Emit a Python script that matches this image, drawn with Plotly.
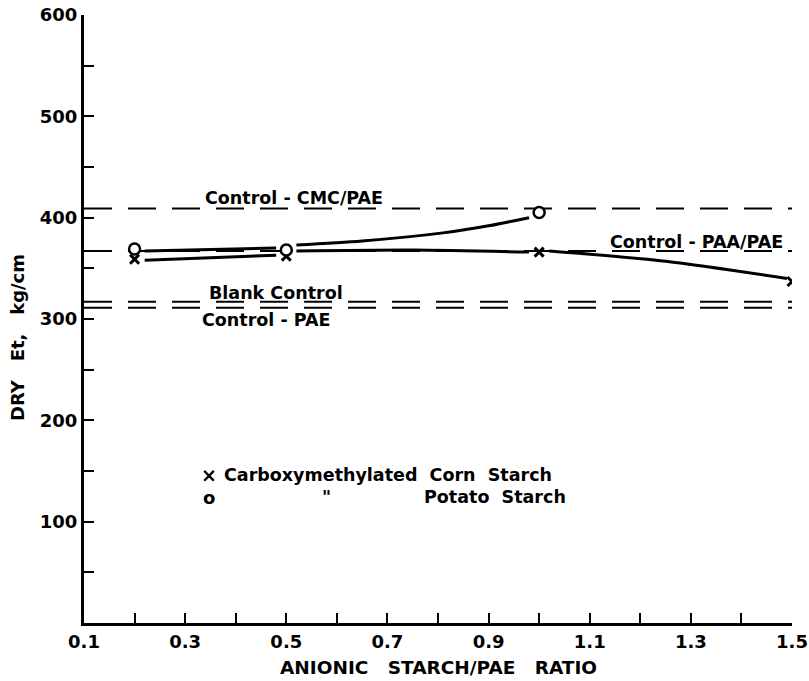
import plotly.graph_objects as go

# Dry tensile strength vs. anionic starch / PAE ratio (measured points)
ratio_corn = [0.2, 0.5, 1.0, 1.5]
dry_et_corn = [359, 362, 366, 337]

ratio_potato = [0.2, 0.5, 1.0]
dry_et_potato = [369, 368, 405]

# Hand-drawn trend curves (segments broken at the markers)
corn_curve_x = [0.22, 0.48, None, 0.52, 0.75, 0.98, None, 1.02, 1.25, 1.49]
corn_curve_y = [358, 363, None, 367, 368, 366, None, 367, 357, 340]
potato_curve_x = [0.22, 0.48, None, 0.52, 0.65, 0.81, 0.90, 0.98]
potato_curve_y = [367, 370, None, 373, 377, 385, 392, 400]

# Reference (control) levels, kg/cm
control_names = ["Control-CMC/PAE", "Control-PAA/PAE", "Blank Control", "Control-PAE"]
control_values = [409, 367, 317, 311]

x_ticks = [round(0.1 + 0.1 * i, 1) for i in range(15)]
x_labels = [f"{v:.1f}" if i % 2 == 0 else "" for i, v in enumerate(x_ticks)]
y_ticks = list(range(0, 601, 50))
y_labels = [str(v) if (v % 100 == 0 and v > 0) else "" for v in y_ticks]

FONT = "DejaVu Sans"
INK = "black"

fig = go.Figure()

# Horizontal dashed control lines
for val in control_values:
    fig.add_trace(go.Scatter(
        x=[0.1, 1.5], y=[val, val], mode="lines",
        line=dict(color=INK, width=2, dash="28px,16px"),
        hoverinfo="skip", showlegend=False))

# Trend curves
for cx, cy in [(potato_curve_x, potato_curve_y), (corn_curve_x, corn_curve_y)]:
    fig.add_trace(go.Scatter(
        x=cx, y=cy, mode="lines", connectgaps=False,
        line=dict(color=INK, width=3, shape="spline", smoothing=0.8),
        hoverinfo="skip", showlegend=False))

# Point markers
fig.add_trace(go.Scatter(
    x=ratio_corn, y=dry_et_corn, mode="markers", name="Carboxymethylated Corn Starch",
    marker=dict(symbol="x-thin", size=9, color=INK, line=dict(color=INK, width=3)),
    showlegend=False))
fig.add_trace(go.Scatter(
    x=ratio_potato, y=dry_et_potato, mode="markers", name="Potato Starch",
    marker=dict(symbol="circle", size=11, color="white", line=dict(color=INK, width=2.5)),
    showlegend=False))

# Labels on the control lines
label_pos = {
    "Control-CMC/PAE": (0.515, 419),
    "Control-PAA/PAE": (1.312, 376),
    "Blank Control": (0.48, 326),
    "Control-PAE": (0.46, 299),
}
label_font = dict(family=FONT, size=17.5, color=INK, weight="bold")
for name in control_names:
    lx, ly = label_pos[name]
    fig.add_annotation(x=lx, y=ly, text=name.replace("-", " - "), showarrow=False,
                       font=label_font, xanchor="center", yanchor="middle")

# Key
key_font = dict(family=FONT, size=17.5, color=INK, weight="bold")
fig.add_annotation(x=0.348, y=146, text="×", showarrow=False,
                   font=dict(family=FONT, size=19, color=INK, weight="bold"),
                   xanchor="center", yanchor="middle")
fig.add_annotation(x=0.372, y=146, text="Carboxymethylated  Corn  Starch", showarrow=False,
                   font=key_font, xanchor="left", yanchor="middle")
fig.add_annotation(x=0.348, y=124, text="o", showarrow=False,
                   font=dict(family=FONT, size=18, color=INK, weight="bold"),
                   xanchor="center", yanchor="middle")
fig.add_annotation(x=0.58, y=124, text="\"", showarrow=False, font=key_font,
                   xanchor="center", yanchor="middle")
fig.add_annotation(x=0.768, y=124, text="Potato  Starch", showarrow=False,
                   font=key_font, xanchor="left", yanchor="middle")

# Axis titles
fig.add_annotation(xref="paper", yref="paper", x=-0.093, y=0.469,
                   text="DRY   Et,   kg/cm", textangle=-90, showarrow=False,
                   font=dict(family=FONT, size=18, color=INK, weight="bold"),
                   xanchor="center", yanchor="middle")
fig.add_annotation(xref="paper", yref="paper", x=0.501, y=-0.074,
                   text="ANIONIC   STARCH/PAE   RATIO", showarrow=False,
                   font=dict(family=FONT, size=18.5, color=INK, weight="bold"),
                   xanchor="center", yanchor="middle")

fig.update_layout(
    width=809, height=681,
    margin=dict(l=84, r=17, t=15, b=58, autoexpand=False),
    paper_bgcolor="white", plot_bgcolor="white",
    showlegend=False,
    xaxis=dict(range=[0.1, 1.5], tickvals=x_ticks, ticktext=x_labels, automargin=False,
               ticks="inside", ticklen=10, tickwidth=2, tickcolor=INK,
               showline=True, linewidth=3, linecolor=INK, showgrid=False, zeroline=False,
               tickfont=dict(family=FONT, size=18, color=INK, weight="bold")),
    yaxis=dict(range=[0, 600], tickvals=y_ticks, ticktext=y_labels, automargin=False,
               ticks="inside", ticklen=10, tickwidth=2, tickcolor=INK,
               showline=True, linewidth=3, linecolor=INK, showgrid=False, zeroline=False,
               tickfont=dict(family=FONT, size=18, color=INK, weight="bold")),
)

fig.write_html("out.html")
